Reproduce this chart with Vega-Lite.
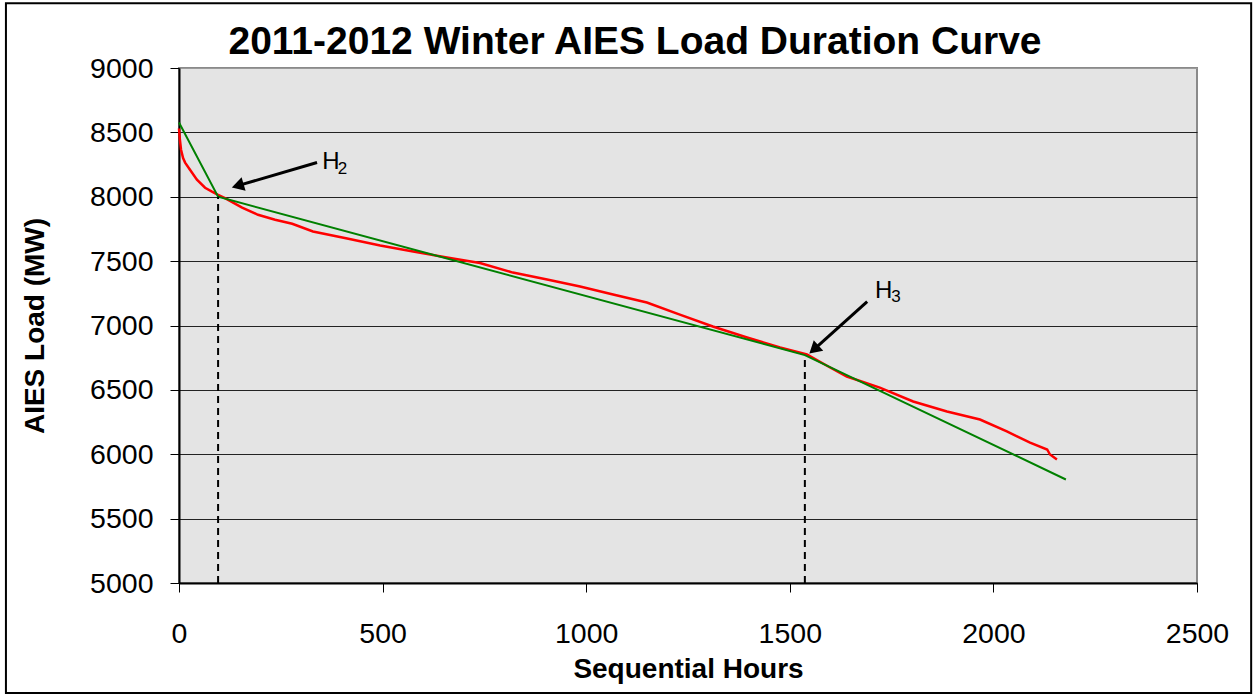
{
  "$schema": "https://vega.github.io/schema/vega-lite/v6.json",
  "autosize": {"type": "none"},
  "width": 1018,
  "height": 515,
  "padding": {"left": 179, "top": 68, "right": 58, "bottom": 113},
  "background": "white",
  "title": {
    "text": "2011-2012 Winter AIES Load Duration Curve",
    "font": "Liberation Sans",
    "fontSize": 39,
    "fontWeight": "bold",
    "color": "black",
    "anchor": "middle",
    "dx": -53,
    "offset": -60
  },
  "config": {
    "font": "Liberation Sans",
    "view": {"fill": "#e4e4e4", "stroke": "#8a8a8a", "strokeWidth": 2},
    "axis": {
      "labelFont": "Liberation Sans",
      "labelFontSize": 28.5,
      "labelColor": "black",
      "titleFont": "Liberation Sans",
      "titleFontSize": 28,
      "titleFontWeight": "bold",
      "titleColor": "black",
      "domainColor": "black",
      "domainWidth": 2,
      "tickColor": "black",
      "tickWidth": 1,
      "tickSize": 9
    }
  },
  "datasets": {
    "load": [
      {"hour": 0, "mw": 8530}, {"hour": 2, "mw": 8450}, {"hour": 5, "mw": 8365},
      {"hour": 10, "mw": 8300}, {"hour": 15, "mw": 8265}, {"hour": 27, "mw": 8210},
      {"hour": 44, "mw": 8133}, {"hour": 64, "mw": 8070}, {"hour": 81, "mw": 8040},
      {"hour": 96, "mw": 8015}, {"hour": 113, "mw": 7990}, {"hour": 155, "mw": 7915},
      {"hour": 194, "mw": 7860}, {"hour": 236, "mw": 7822}, {"hour": 278, "mw": 7790},
      {"hour": 329, "mw": 7730}, {"hour": 413, "mw": 7676}, {"hour": 494, "mw": 7621},
      {"hour": 575, "mw": 7575}, {"hour": 658, "mw": 7528}, {"hour": 739, "mw": 7486},
      {"hour": 820, "mw": 7411}, {"hour": 904, "mw": 7357}, {"hour": 985, "mw": 7303},
      {"hour": 1066, "mw": 7241}, {"hour": 1149, "mw": 7179}, {"hour": 1230, "mw": 7085},
      {"hour": 1311, "mw": 6992}, {"hour": 1395, "mw": 6907}, {"hour": 1476, "mw": 6829},
      {"hour": 1542, "mw": 6775}, {"hour": 1599, "mw": 6674}, {"hour": 1640, "mw": 6604},
      {"hour": 1721, "mw": 6518}, {"hour": 1803, "mw": 6410}, {"hour": 1886, "mw": 6332},
      {"hour": 1967, "mw": 6270}, {"hour": 2033, "mw": 6177}, {"hour": 2090, "mw": 6090},
      {"hour": 2132, "mw": 6037}, {"hour": 2139, "mw": 5998}, {"hour": 2156, "mw": 5959}
    ],
    "fit": [
      {"hour": 0, "mw": 8577}, {"hour": 96, "mw": 8000},
      {"hour": 1537, "mw": 6770}, {"hour": 2178, "mw": 5804}
    ],
    "breaks": [
      {"hour": 96, "low": 5000, "high": 8000},
      {"hour": 1537, "low": 5000, "high": 6770}
    ],
    "arrows": [
      {"name": "H2", "x1": 339, "y1": 8266, "x2": 149, "y2": 8090, "hx": 149, "hy": 8090, "angle": 253.6},
      {"name": "H3", "x1": 1690, "y1": 7186, "x2": 1563, "y2": 6824, "hx": 1563, "hy": 6824, "angle": 228.1}
    ],
    "letters": [
      {"text": "H", "hour": 352, "mw": 8212},
      {"text": "H", "hour": 1709, "mw": 7217}
    ],
    "subs": [
      {"text": "2", "hour": 390, "mw": 8173},
      {"text": "3", "hour": 1749, "mw": 7179}
    ],
    "frame": [
      {"x1": -425, "x2": 2633, "y1": 9503, "y2": 4145}
    ]
  },
  "layer": [
    {
      "data": {"name": "load"},
      "mark": {"type": "line", "color": "#ff0000", "strokeWidth": 2.5},
      "encoding": {
        "x": {
          "field": "hour", "type": "quantitative",
          "scale": {"domain": [0, 2500], "nice": false},
          "axis": {
            "values": [0, 500, 1000, 1500, 2000, 2500],
            "format": "d",
            "title": "Sequential Hours",
            "grid": false,
            "labelPadding": 27,
            "titlePadding": 8,
            "labelFlush": false
          }
        },
        "y": {
          "field": "mw", "type": "quantitative",
          "scale": {"domain": [5000, 9000], "nice": false, "zero": false},
          "axis": {
            "values": [5000, 5500, 6000, 6500, 7000, 7500, 8000, 8500, 9000],
            "format": "d",
            "title": "AIES Load (MW)",
            "grid": true,
            "gridColor": {"condition": {"test": "datum.value == 9000", "value": "#9a9a9a"}, "value": "#222222"},
            "gridWidth": 1,
            "labelPadding": 17,
            "titlePadding": 40,
            "labelFlush": false
          }
        }
      }
    },
    {
      "data": {"name": "fit"},
      "mark": {"type": "line", "color": "#008000", "strokeWidth": 2},
      "encoding": {
        "x": {"field": "hour", "type": "quantitative"},
        "y": {"field": "mw", "type": "quantitative"}
      }
    },
    {
      "data": {"name": "breaks"},
      "mark": {"type": "rule", "color": "black", "strokeWidth": 2, "strokeDash": [7, 5]},
      "encoding": {
        "x": {"field": "hour", "type": "quantitative"},
        "y": {"field": "low", "type": "quantitative"},
        "y2": {"field": "high"}
      }
    },
    {
      "data": {"name": "arrows"},
      "mark": {"type": "rule", "color": "black", "strokeWidth": 3},
      "encoding": {
        "x": {"field": "x1", "type": "quantitative"},
        "y": {"field": "y1", "type": "quantitative"},
        "x2": {"field": "x2"},
        "y2": {"field": "y2"}
      }
    },
    {
      "data": {"name": "arrows"},
      "mark": {"type": "point", "shape": "triangle", "filled": true, "color": "black", "size": 200, "opacity": 1},
      "encoding": {
        "x": {"field": "hx", "type": "quantitative"},
        "y": {"field": "hy", "type": "quantitative"},
        "angle": {"field": "angle", "type": "quantitative", "scale": null}
      }
    },
    {
      "data": {"name": "letters"},
      "mark": {"type": "text", "font": "Liberation Sans", "fontSize": 24, "align": "left", "baseline": "alphabetic", "color": "black"},
      "encoding": {
        "x": {"field": "hour", "type": "quantitative"},
        "y": {"field": "mw", "type": "quantitative"},
        "text": {"field": "text"}
      }
    },
    {
      "data": {"name": "subs"},
      "mark": {"type": "text", "font": "Liberation Sans", "fontSize": 17, "align": "left", "baseline": "alphabetic", "color": "black"},
      "encoding": {
        "x": {"field": "hour", "type": "quantitative"},
        "y": {"field": "mw", "type": "quantitative"},
        "text": {"field": "text"}
      }
    },
    {
      "data": {"name": "frame"},
      "mark": {"type": "rect", "fill": null, "filled": false, "stroke": "black", "strokeWidth": 2, "clip": false},
      "encoding": {
        "x": {"field": "x1", "type": "quantitative"},
        "x2": {"field": "x2"},
        "y": {"field": "y1", "type": "quantitative"},
        "y2": {"field": "y2"}
      }
    }
  ]
}
